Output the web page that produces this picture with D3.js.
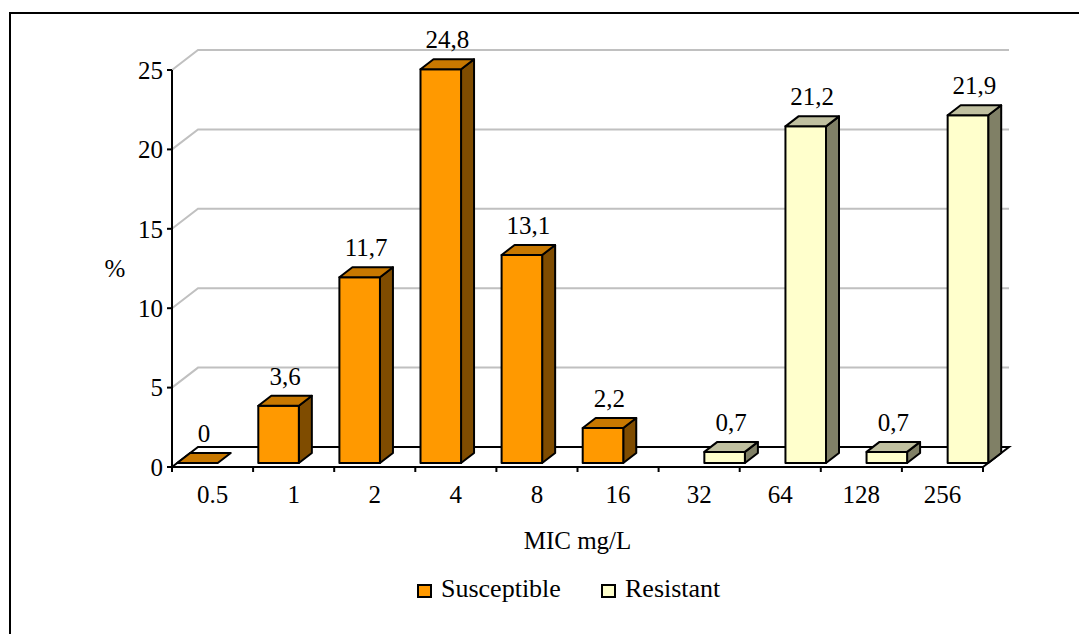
<!DOCTYPE html>
<html>
<head>
<meta charset="utf-8">
<script src="https://cdn.jsdelivr.net/npm/d3@7"></script>
<style>
  html, body { margin: 0; padding: 0; background: #fff; }
  svg { display: block; }
  text { font-family: "Liberation Serif", "Times New Roman", "DejaVu Serif", serif; fill: #000; }
</style>
</head>
<body>
<svg id="chart" width="1079" height="634" font-family="Liberation Serif, Times New Roman, serif"></svg>
<script>
// MIC distribution, percent of isolates per concentration
const categories = ["0.5", "1", "2", "4", "8", "16", "32", "64", "128", "256"];
const seriesNames = ["Susceptible", "Resistant"];
const susceptible = [0, 3.6, 11.7, 24.8, 13.1, 2.2, null, null, null, null];
const resistant = [null, null, null, null, null, null, 0.7, 21.2, 0.7, 21.9];
const yTicks = [0, 5, 10, 15, 20, 25];

const colors = {
  Susceptible: { front: "#FF9900", top: "#C87800", side: "#7F4C00" },
  Resistant:   { front: "#FFFFCC", top: "#C0C0A0", side: "#808066" }
};

const svg = d3.select("#chart");
const W = 1079, H = 634;
const FONT = 25;

// Outer frame
svg.append("rect")
  .attr("x", 10).attr("y", 13)
  .attr("width", W + 20).attr("height", H + 20)
  .attr("fill", "none").attr("stroke", "#000").attr("stroke-width", 2);

// Plot geometry: front plane plus an oblique depth offset
const left = 172, right = 983;
const depthX = 26, depthY = -20;
const barFront = 0.2, barBack = 0.7;

const x = d3.scaleBand().domain(categories).range([left, right]).padding(0);
const xs = d3.scaleBand().domain(seriesNames).range([0, x.bandwidth()]).padding(0);
const y = d3.scaleLinear().domain([0, 25]).range([467, 70]);

const g = svg.append("g");

// Back-wall gridlines with their diagonal run along the side wall
yTicks.filter(t => t > 0).forEach(t => {
  g.append("path")
    .attr("d", `M${left},${y(t)} L${left + depthX},${y(t) + depthY} L${right + depthX},${y(t) + depthY}`)
    .attr("fill", "none").attr("stroke", "#C0C0C0").attr("stroke-width", 2);
});

// Floor outline
g.append("path")
  .attr("d", `M${left},${y(0)} L${left + depthX},${y(0) + depthY} L${right + depthX},${y(0) + depthY} L${right},${y(0)}`)
  .attr("fill", "none").attr("stroke", "#000").attr("stroke-width", 2);

// Bars
const bars = [];
categories.forEach((c, i) => {
  [[seriesNames[0], susceptible[i]], [seriesNames[1], resistant[i]]].forEach(([s, v]) => {
    if (v !== null && v !== undefined) bars.push({ cat: c, series: s, value: v });
  });
});

const fdx = barFront * depthX, fdy = barFront * depthY;
const bdx = (barBack - barFront) * depthX, bdy = (barBack - barFront) * depthY;

const fmt = v => v === 0 ? "0" : d3.format(".1f")(v).replace(".", ",");

bars.forEach(b => {
  const x0 = x(b.cat) + xs(b.series) + fdx;
  const w = xs.bandwidth();
  const yTop = y(b.value) + fdy;
  const yBase = y(0) + fdy;
  const col = colors[b.series];
  const bg = g.append("g")
    .attr("stroke", "#000").attr("stroke-width", 2).attr("stroke-linejoin", "round");

  if (b.value > 0) {
    // right side face
    bg.append("path")
      .attr("d", `M${x0 + w},${yBase} L${x0 + w + bdx},${yBase + bdy} L${x0 + w + bdx},${yTop + bdy} L${x0 + w},${yTop} Z`)
      .attr("fill", col.side);
    // front face
    bg.append("rect")
      .attr("x", x0).attr("y", yTop)
      .attr("width", w).attr("height", yBase - yTop)
      .attr("fill", col.front);
  }
  // top face
  bg.append("path")
    .attr("d", `M${x0},${yTop} L${x0 + bdx},${yTop + bdy} L${x0 + w + bdx},${yTop + bdy} L${x0 + w},${yTop} Z`)
    .attr("fill", col.top);

  // value label
  g.append("text")
    .attr("x", x0 + (w + bdx) / 2)
    .attr("y", yTop - 21)
    .attr("text-anchor", "middle")
    .attr("font-size", FONT)
    .text(fmt(b.value));
});

// Y axis
const yAxis = g.append("g");
yAxis.append("line")
  .attr("x1", left).attr("x2", left)
  .attr("y1", y(0)).attr("y2", y(25))
  .attr("stroke", "#000").attr("stroke-width", 2);
yTicks.forEach(t => {
  yAxis.append("line")
    .attr("x1", left - 5).attr("x2", left)
    .attr("y1", y(t)).attr("y2", y(t))
    .attr("stroke", "#000").attr("stroke-width", 2);
  yAxis.append("text")
    .attr("x", left - 9).attr("y", y(t))
    .attr("dy", "0.35em")
    .attr("text-anchor", "end")
    .attr("font-size", FONT)
    .text(t);
});

// X axis (front edge of the floor)
const xAxis = g.append("g");
xAxis.append("line")
  .attr("x1", left).attr("x2", right)
  .attr("y1", y(0)).attr("y2", y(0))
  .attr("stroke", "#000").attr("stroke-width", 2);
const edges = categories.map(c => x(c)).concat([right]);
edges.forEach(px => {
  xAxis.append("line")
    .attr("x1", px).attr("x2", px)
    .attr("y1", y(0)).attr("y2", y(0) + 5)
    .attr("stroke", "#000").attr("stroke-width", 2);
});
categories.forEach(c => {
  xAxis.append("text")
    .attr("x", x(c) + x.bandwidth() / 2)
    .attr("y", 503)
    .attr("text-anchor", "middle")
    .attr("font-size", FONT)
    .text(c);
});

// Axis titles
svg.append("text")
  .attr("x", (left + right) / 2).attr("y", 549)
  .attr("text-anchor", "middle").attr("font-size", FONT)
  .text("MIC mg/L");
svg.append("text")
  .attr("x", 115).attr("y", 277)
  .attr("text-anchor", "middle").attr("font-size", FONT)
  .text("%");

// Legend
const legendItems = [
  { name: "Susceptible", sx: 418, tx: 441 },
  { name: "Resistant", sx: 602, tx: 625 }
];
const lg = svg.append("g");
legendItems.forEach(it => {
  lg.append("rect")
    .attr("x", it.sx).attr("y", 585)
    .attr("width", 13).attr("height", 12)
    .attr("fill", colors[it.name].front)
    .attr("stroke", "#000").attr("stroke-width", 2);
  lg.append("text")
    .attr("x", it.tx).attr("y", 597)
    .attr("font-size", 26)
    .text(it.name);
});
</script>
</body>
</html>
